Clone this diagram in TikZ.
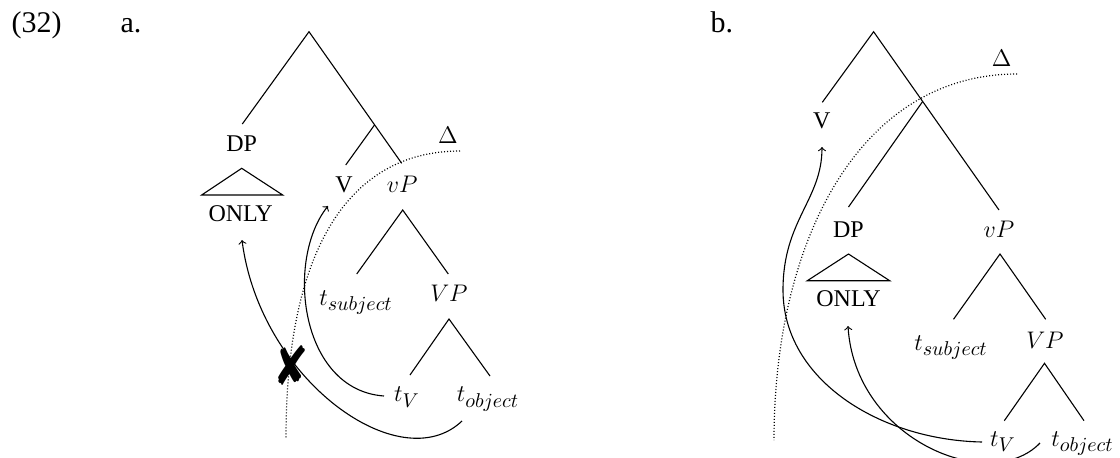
\documentclass[tikz,border=0pt]{standalone}
\usepackage{fontspec}
\setmainfont{Liberation Serif}
\newfontfamily\symfont{DejaVu Sans}
\DeclareMathSizes{12}{12}{9.6}{7}
\begin{document}
\begin{tikzpicture}[x=0.5pt,y=-0.5pt,
  lbl/.style={font=\fontsize{15}{18}\selectfont, anchor=base, inner sep=0pt},
  tx/.style={font=\fontsize{12}{14}\selectfont, anchor=base, inner sep=0pt},
  br/.style={line width=0.55pt},
  dotline/.style={line width=0.6pt, dash pattern=on 0.5pt off 1pt},
  mv/.style={line width=0.55pt, ->}]
\useasboundingbox (0,0) rectangle (1120,457);
\begin{scope}
\clip (0,0) rectangle (1120,457);
% labels
\node[lbl] (num) at (36.7,32) {(32)};
\node[lbl] (la) at (131,32) {a.};
\node[lbl] (lb) at (721.8,32) {b.};

% ---------------- panel a ----------------
\coordinate (aRoot) at (309,31.7);
\coordinate (aDPt) at (242.3,124);
\coordinate (aJ) at (374.5,125);
\coordinate (avPt) at (401.7,163.3);
\coordinate (aVt) at (345.7,165);
\draw[br] (aDPt) -- (aRoot) -- (avPt);
\draw[br] (aJ) -- (aVt);
\node[tx] (aDP) at (241.7,151.7) {DP};
\coordinate (aTri) at (241.7,168.3);
\draw[br] (aTri) -- (201.7,195) -- (282.7,195) -- cycle;
\node[tx] (aONLY) at (240.7,221.7) {ONLY};
\node[tx] (aV) at (344,192.7) {V};
\node[tx] (avP) at (402.3,192.7) {$vP$};
\node[tx] (aDelta) at (448,143.3) {$\Delta$};
\coordinate (avPa) at (402.7,210);
\coordinate (atSt) at (356.7,274);
\coordinate (aVPt) at (448.3,274);
\draw[br] (atSt) -- (avPa) -- (aVPt);
\node[tx] (atS) at (356,305) {$t_{subject}$};
\node[tx] (aVP) at (449,301.7) {$VP$};
\coordinate (aVPa) at (449,319);
\coordinate (atVt) at (410,375);
\coordinate (atOt) at (490,376);
\draw[br] (atVt) -- (aVPa) -- (atOt);
\node[tx] (atV) at (407,401.7) {$t_V$};
\node[tx] (atO) at (488,401.7) {$t_{object}$};
% dotted phase boundary
\coordinate (aDs) at (460,151);
\coordinate (aDe) at (286,438);
\draw[dotline] (aDs) .. controls (355,151) and (286,240) .. (aDe);
% movement arrows
\coordinate (aOs) at (462,421);
\coordinate (aOe) at (242,240);
\draw[mv] (aOs) .. controls (400,480) and (260,380) .. (aOe);
\coordinate (aVs) at (384,396);
\coordinate (aVe) at (328,206);
\draw[mv] (aVs) .. controls (300,390) and (285,260) .. (aVe);
\node[inner sep=0pt, font=\symfont\fontsize{27}{27}\selectfont] (aX) at (291,366) {\scalebox{0.78}[1]{✘}};

% ---------------- panel b ----------------
\coordinate (bRoot) at (873.6,31.7);
\coordinate (bVt) at (822.3,102.3);
\coordinate (bvPt) at (999,210);
\coordinate (bJ) at (922.5,101.7);
\coordinate (bDPt) at (848.5,207);
\draw[br] (bVt) -- (bRoot) -- (bvPt);
\draw[br] (bJ) -- (bDPt);
\node[tx] (bV) at (821.7,128.3) {V};
\node[tx] (bDP) at (848.5,237) {DP};
\node[tx] (bvP) at (999,237) {$vP$};
\coordinate (bTri) at (848.5,254);
\draw[br] (bTri) -- (807.3,280.7) -- (889.7,280.7) -- cycle;
\node[tx] (bONLY) at (848.5,306.7) {ONLY};
\node[tx] (bDelta) at (1001.7,66.7) {$\Delta$};
\coordinate (bvPa) at (1000,254);
\coordinate (btSt) at (953.5,319.3);
\coordinate (bVPt) at (1045.7,319.3);
\draw[br] (btSt) -- (bvPa) -- (bVPt);
\node[tx] (btS) at (951,350) {$t_{subject}$};
\node[tx] (bVP) at (1045,348.3) {$VP$};
\coordinate (bVPa) at (1044.5,363.3);
\coordinate (btVt) at (1004.3,420.7);
\coordinate (btOt) at (1084,420.7);
\draw[br] (btVt) -- (bVPa) -- (btOt);
\node[tx] (btV) at (1003,446) {$t_V$};
\node[tx] (btO) at (1082.5,446) {$t_{object}$};
% dotted boundary
\coordinate (bDs) at (1017,74);
\coordinate (bDe) at (774,440);
\draw[dotline] (bDs) .. controls (860,74) and (774,240) .. (bDe);
% arrows
\coordinate (bVs) at (982,442);
\coordinate (bVm) at (783,290);
\coordinate (bVe) at (822,147);
\draw[mv] (bVs) .. controls (880,440) and (783,380) .. (bVm) .. controls (783,220) and (822,200) .. (bVe);
\coordinate (bOs) at (1040,443);
\coordinate (bOe) at (848,326);
\draw[mv] (bOs) .. controls (990,495) and (855,440) .. (bOe);
\end{scope}
\end{tikzpicture}
\end{document}
